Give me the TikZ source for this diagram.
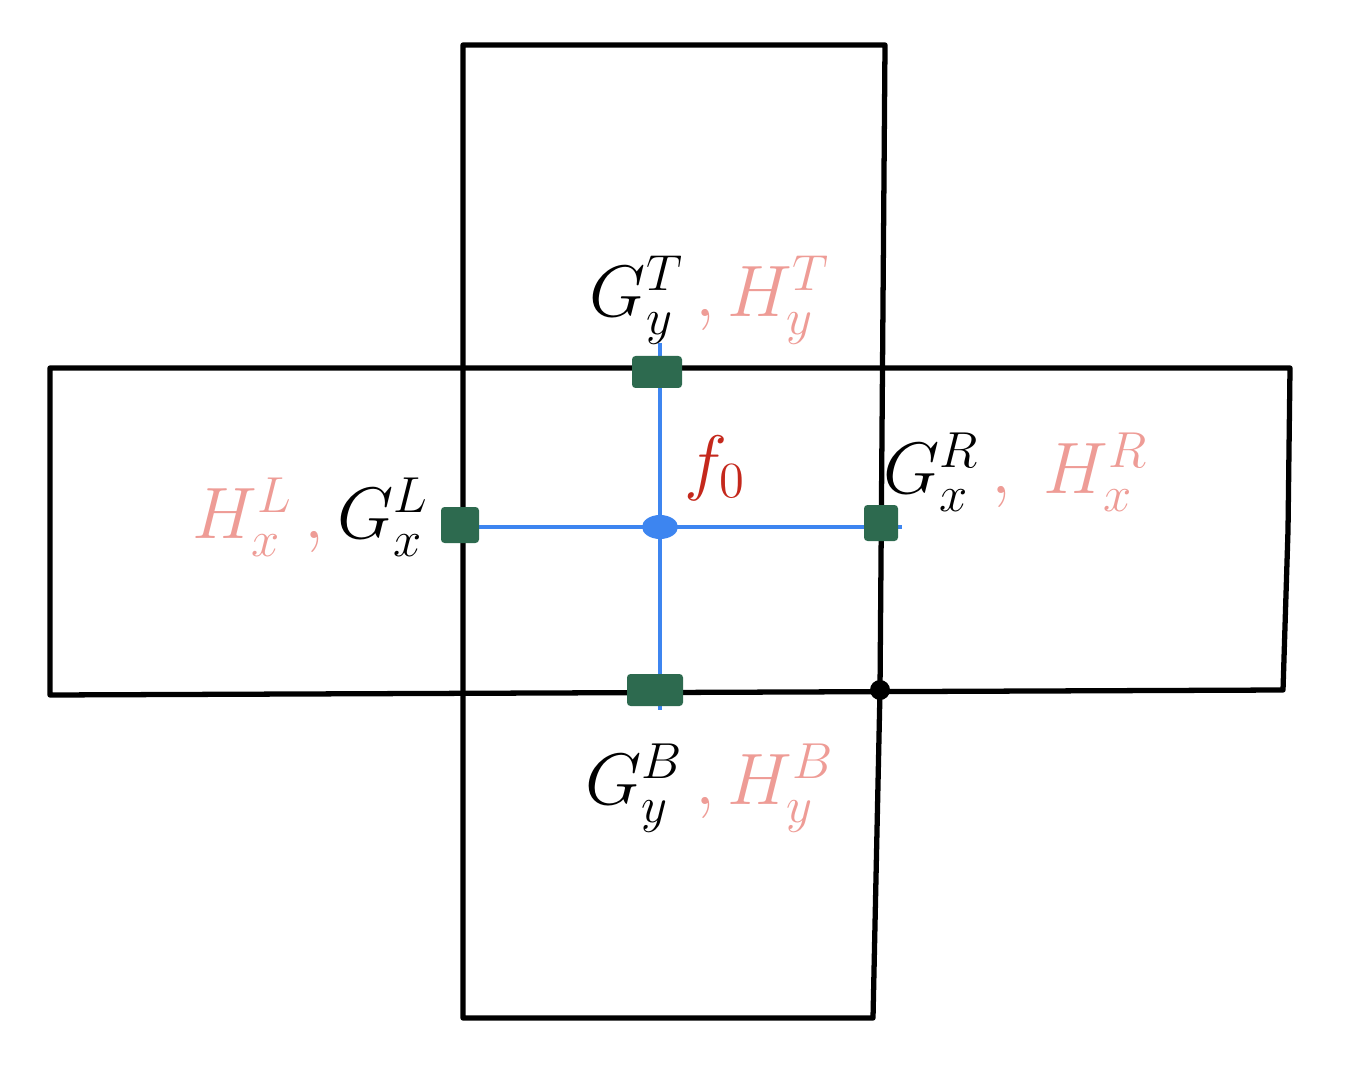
\documentclass[tikz,border=0pt]{standalone}
\usepackage{tikz}
\usetikzlibrary{positioning}

\definecolor{hpink}{HTML}{EE9C96}
\definecolor{fred}{HTML}{C4281C}
\definecolor{pgreen}{HTML}{2D6A4F}
\definecolor{lblue}{HTML}{3D85F0}

\begin{document}
\begin{tikzpicture}[
x=0.1mm, y=-0.1mm,
node distance=4mm and 4mm,
wall/.style={draw=black, line width=1.5pt, line join=round, line cap=round},
link/.style={draw=lblue, line width=0.9pt},
port/.style={rectangle, rounded corners=1pt, fill=pgreen, inner sep=0pt},
lab/.style={font=\fontsize{22}{26}\selectfont, inner sep=1pt}
]
\useasboundingbox (0,0) rectangle (1350,1079);

% cells
\draw[wall] (463,45) -- (885,45) -- (880,690) -- (873,1018) -- (463,1018) -- cycle;
\draw[wall] (50,368) -- (1290,368) -- (1288,530) -- (1283,690) -- (50,695) -- cycle;
\fill (880,690) circle (10);

% stencil
\coordinate (c) at (660,527);
\coordinate (tEnd) at (660,343);
\coordinate (bEnd) at (660,710);
\coordinate (lEnd) at (463,527);
\coordinate (rEnd) at (902,527);
\draw[link] (tEnd) -- (bEnd);
\draw[link] (lEnd) -- (rEnd);
\fill[lblue] (c) ellipse (18 and 12);

\node[port, minimum width=5mm, minimum height=3.2mm] (pT) at (657,372) {};
\node[port, minimum width=3.8mm, minimum height=3.6mm] (pL) at (460,525) {};
\node[port, minimum width=3.4mm, minimum height=3.6mm] (pR) at (881,523) {};
\node[port, minimum width=5.6mm, minimum height=3.2mm] (pB) at (655,690) {};

% labels
\node[lab, text=fred, above right=2.2mm and 2mm of c] (f0) {$f_0$};
\node[lab] (lT) at (710,300) {$G_y^T\,${\color{hpink}$,H_y^T$}};
\node[lab] (lL) at (311,517) {{\color{hpink}$H_x^L\,,$}\,$G_x^L$};
\node[lab] (lR) at (1016,472) {$G_x^R\,${\color{hpink}$,\;H_x^R$}};
\node[lab] (lB) at (710,788) {$G_y^B\,${\color{hpink}$,H_y^B$}};

\end{tikzpicture}
\end{document}
